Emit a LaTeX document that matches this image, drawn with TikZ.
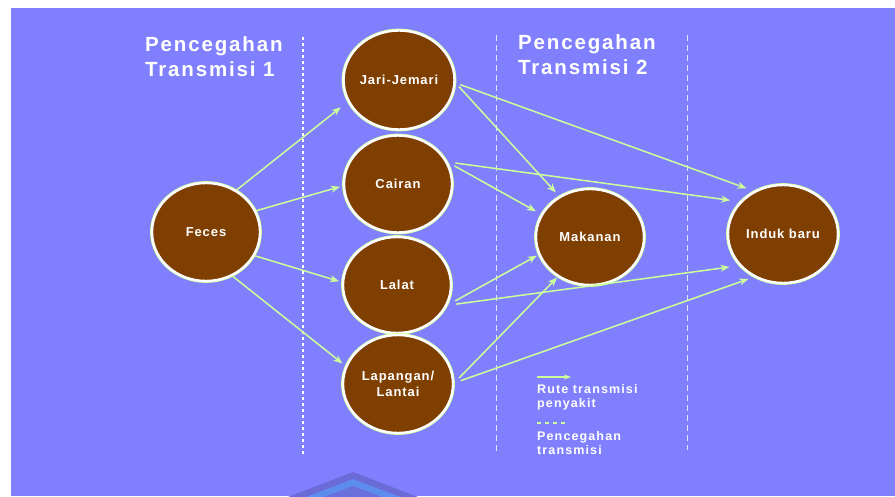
\documentclass[tikz,border=0pt]{standalone}
\usepackage{fontspec}
\setmainfont{Liberation Sans}
\usetikzlibrary{arrows.meta,shapes.geometric}
\definecolor{bg}{HTML}{8080FF}
\definecolor{brownfill}{HTML}{7F3F00}
\definecolor{agreen}{HTML}{CCFF99}
\definecolor{dashcol}{HTML}{E4E4FF}
\definecolor{chevA}{HTML}{6B6BD8}
\definecolor{chevB}{HTML}{5C8CEE}
\newcommand{\headfont}{\bfseries\fontsize{20.5}{22}\selectfont\addfontfeatures{LetterSpace=9}}
\newcommand{\nodefont}{\bfseries\fontsize{13}{15}\selectfont\addfontfeatures{LetterSpace=7}}
\newcommand{\legfont}{\bfseries\fontsize{12.5}{14}\selectfont\addfontfeatures{LetterSpace=9}}
\begin{document}
\begin{tikzpicture}[x=1pt,y=-1pt,
  circ/.style={ellipse, fill=brownfill, draw=white, line width=2.4pt,
    minimum width=106pt, minimum height=96pt, inner sep=0pt,
    font=\nodefont, text=white, align=center,
    preaction={draw=agreen, line width=3.8pt}},
  route/.style={draw=agreen, line width=1.5pt, -{Stealth[length=9pt,width=7pt]}},
  head/.style={anchor=base west, inner sep=0pt, text=white, font=\headfont},
  leg/.style={anchor=base west, inner sep=0pt, text=white, font=\legfont},
  bigdots/.style={draw=white, line width=2.6pt, dash pattern=on 3pt off 3pt},
  thindash/.style={draw=dashcol, line width=0.9pt, dash pattern=on 6pt off 4pt}]
\useasboundingbox (0,0) rectangle (895,496);
\fill[white] (0,0) rectangle (895,496);
\fill[bg] (11,8) rectangle (895,496);
% chevron at the bottom
\fill[chevA] (353,472) -- (418,497) -- (288,497) -- cycle;
\fill[chevB] (353,479) -- (400,497) -- (306,497) -- cycle;
\fill[chevA!85!chevB] (353,486) -- (382,497) -- (324,497) -- cycle;
% prevention lines
\coordinate (d1t) at (303,37); \coordinate (d1b) at (303,455);
\coordinate (d2t) at (496,35); \coordinate (d2b) at (496,455);
\coordinate (d3t) at (687,35); \coordinate (d3b) at (687,450);
\draw[bigdots] (d1t) -- (d1b);
\draw[thindash] (d2t) -- (d2b);
\draw[thindash] (d3t) -- (d3b);
% headings
\node[head] (h1a) at (145,51) {Pencegahan};
\node[head] (h1b) at (145,76) {Transmisi 1};
\node[head] (h2a) at (518,49) {Pencegahan};
\node[head] (h2b) at (518,74) {Transmisi 2};
% nodes
\node[circ, minimum width=108pt, minimum height=98pt] (feces) at (206,232) {Feces};
\node[circ, minimum width=110pt, minimum height=99pt] (jari) at (399,80) {Jari-Jemari};
\node[circ, minimum width=108pt, minimum height=97pt] (cairan) at (398,184) {Cairan};
\node[circ, minimum width=108pt, minimum height=96pt] (lalat) at (397,285) {Lalat};
\node[circ, minimum width=110pt, minimum height=98pt] (lapangan) at (398,384) {Lapangan/\\[1pt]Lantai};
\node[circ, minimum width=108pt, minimum height=96pt] (makanan) at (590,237) {Makanan};
\node[circ, minimum width=110pt, minimum height=98pt] (induk) at (783,234) {Induk baru};
% routes from feces
\draw[route, shorten >=9pt] (feces.54) -- (jari.203);
\draw[route, shorten >=3pt] (feces.23) -- (cairan.182);
\draw[route, shorten >=3pt] (feces.-26) -- (lalat.177);
\draw[route, shorten >=4pt] (feces.-59) -- (lapangan.161);
% routes to makanan and induk baru
\draw[route, shorten <=5pt, shorten >=5pt] (jari.-3) -- (makanan.127);
\draw[route, shorten <=5pt, shorten >=8pt] (jari.-3) -- (induk.124.5);
\draw[route, shorten <=8pt, shorten >=6pt] (cairan.24) -- (makanan.155);
\draw[route, shorten <=8pt, shorten >=10pt] (cairan.24) -- (induk.143);
\draw[route, shorten <=9pt, shorten >=2pt] (lalat.-22) -- (makanan.199);
\draw[route, shorten <=9pt, shorten >=10pt] (lalat.-22) -- (induk.216);
\draw[route, shorten <=7pt, shorten >=1pt] (lapangan.1) -- (makanan.231);
\draw[route, shorten <=7pt, shorten >=6pt] (lapangan.1) -- (induk.236.5);
% legend
\coordinate (la1) at (537,377); \coordinate (la2) at (571,377);
\draw[draw=agreen, line width=1.2pt, -{Stealth[length=7pt,width=5pt]}] (la1) -- (la2);
\node[leg] (l1) at (537,393) {Rute transmisi};
\node[leg] (l2) at (537,407) {penyakit};
\coordinate (lb1) at (537,423); \coordinate (lb2) at (568,423);
\draw[draw=agreen, line width=1.2pt, dash pattern=on 4pt off 4pt] (lb1) -- (lb2);
\node[leg] (l3) at (537,440) {Pencegahan};
\node[leg] (l4) at (537,454) {transmisi};
\end{tikzpicture}
\end{document}
